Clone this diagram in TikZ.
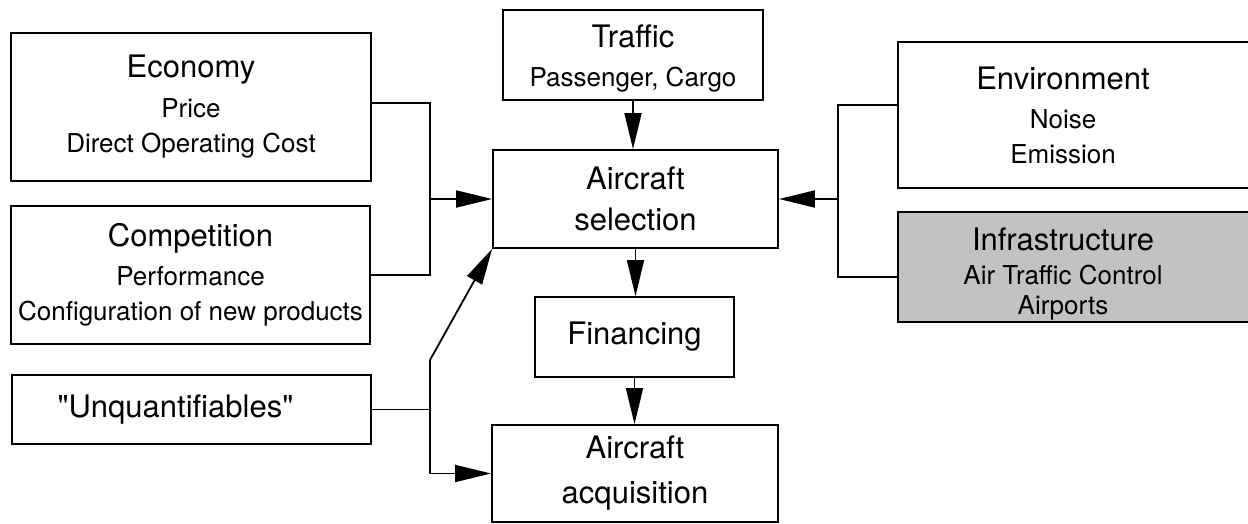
\documentclass[tikz,border=0pt]{standalone}
\usepackage{fontspec}
\setmainfont{TeX Gyre Heros}[Ligatures=TeXOff]
\usetikzlibrary{arrows.meta,backgrounds}

\newcommand{\ttl}[1]{{\fontsize{31}{37}\selectfont #1}}

\tikzset{
  box/.style={draw, line width=1.8pt, rectangle, inner sep=0pt, align=center,
    font=\fontsize{26}{35}\selectfont},
  bigbox/.style={box, font=\fontsize{31}{41}\selectfont},
  openbox/.style={rectangle, inner sep=0pt, align=center,
    font=\fontsize{26}{35}\selectfont},
  link/.style={line width=1.8pt},
  arr/.style={link, -{Triangle[length=36pt,width=17pt]}},
}

\begin{document}
\begin{tikzpicture}[x=1pt,y=-1pt]
\clip (0,0) rectangle (1248,524);

% left-hand influences
\node[box, minimum width=360, minimum height=148] (eco) at (191,107)
  {\ttl{Economy}\\[5pt] Price\\ Direct Operating Cost};
\node[box, minimum width=359, minimum height=138] (comp) at (190.5,275)
  {\ttl{Competition}\\[4pt] Performance\\ Configuration of new products};
\node[box, minimum width=359, minimum height=69] (unq) at (191.5,409.5)
  {\hspace*{-32pt}\ttl{"Unquantifiables"}};

% central chain
\node[box, minimum width=260, minimum height=90] (traf) at (633,55)
  {\ttl{\rule{0pt}{30pt}Traffic}\\[4pt] Passenger, Cargo};
\node[bigbox, minimum width=285, minimum height=98] (sel) at (635.5,199)
  {Aircraft\\ selection};
\node[bigbox, minimum width=199, minimum height=80] (fin) at (634.5,337)
  {Financing};
\node[bigbox, minimum width=286, minimum height=97] (acq) at (635,473.5)
  {Aircraft\\[4pt] acquisition};

% right-hand influences (boxes run past the right margin)
\coordinate (rim) at (1262,0);
\node[openbox, minimum width=330, minimum height=146] (env) at (1063,115)
  {\ttl{Environment}\\[4pt] Noise\\ Emission};
\node[openbox, minimum width=330, minimum height=110] (infra) at (1063,267)
  {\ttl{\rule{0pt}{37pt}Infrastructure}\\[-1pt] Air Traffic Control\\[-5pt] Airports};
\begin{scope}[on background layer]
  \fill[black!24] (infra.north west) rectangle (rim |- infra.south);
\end{scope}
\draw[link] (rim |- env.north) -- (env.north west) -- (env.south west) -- (rim |- env.south);
\draw[link] (rim |- infra.north) -- (infra.north west) -- (infra.south west) -- (rim |- infra.south);

% junction points
\coordinate (jl) at (430,199);
\coordinate (ju) at (430,360);
\coordinate (jr) at (838,199);

% connectors
\draw[link] ([yshift=4pt]eco.east) -| (jl) |- (comp.east);
\draw[arr] (jl) -- (sel.west);
\draw[link] (unq.east) -| (ju);
\draw[arr] (ju) -- (sel.south west);
\draw[arr] (ju) |- (acq.west);

\draw[arr] (traf.south) -- (traf.south |- sel.north);
\draw[arr] (sel.south) -- (sel.south |- fin.north);
\draw[arr] (fin.south) -- (fin.south |- acq.north);

\draw[link] ([yshift=10pt]env.west) -| (jr) |- ([yshift=-10pt]infra.west);
\draw[arr] (jr) -- (sel.east);
\end{tikzpicture}
\end{document}
